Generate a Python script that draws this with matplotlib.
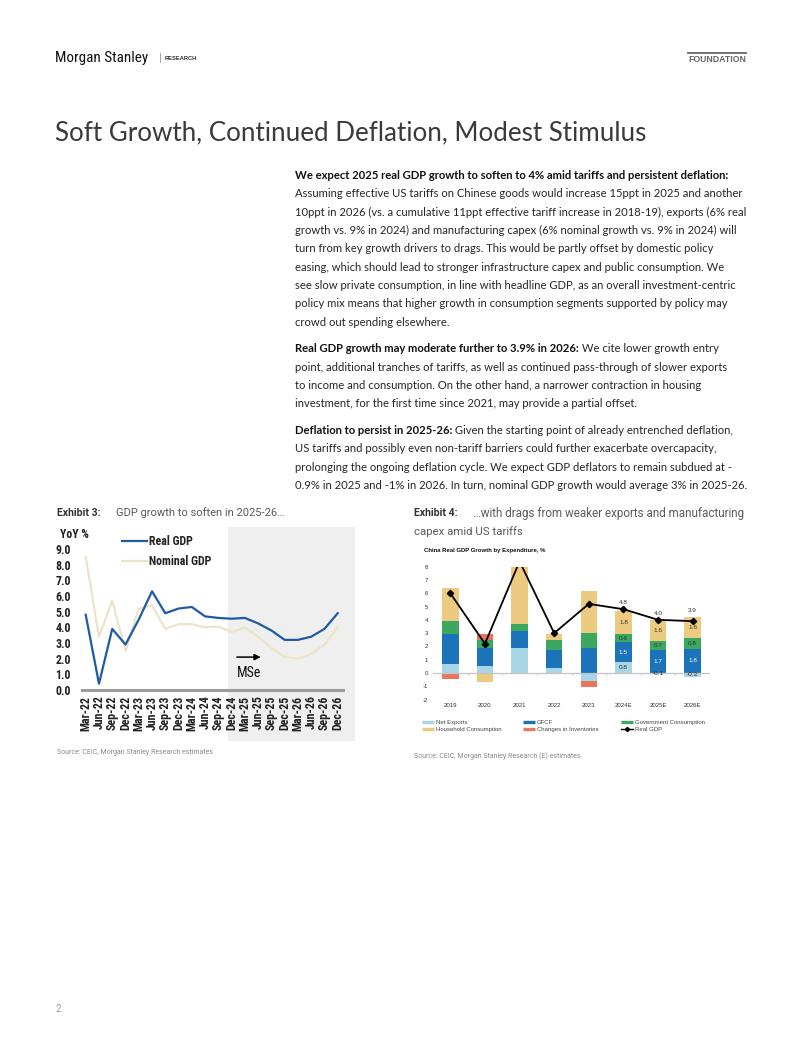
import matplotlib
matplotlib.use('Agg')
import matplotlib.pyplot as plt
from matplotlib import font_manager as fm
from matplotlib.patches import Rectangle
from matplotlib.lines import Line2D
from matplotlib.transforms import blended_transform_factory
import numpy as np

plt.rcParams['axes.unicode_minus'] = False

# ---------------- data ----------------
quarters = ['Mar-22', 'Jun-22', 'Sep-22', 'Dec-22', 'Mar-23', 'Jun-23', 'Sep-23', 'Dec-23',
            'Mar-24', 'Jun-24', 'Sep-24', 'Dec-24', 'Mar-25', 'Jun-25', 'Sep-25', 'Dec-25',
            'Mar-26', 'Jun-26', 'Sep-26', 'Dec-26']
real_gdp_q = [4.8, 0.4, 3.9, 2.9, 4.5, 6.3, 4.9, 5.2, 5.3, 4.7, 4.6, 4.55,
              4.6, 4.25, 3.8, 3.2, 3.2, 3.4, 3.9, 4.9]
nominal_gdp_q = [8.5, 3.4, 5.7, 2.5, 5.2, 5.4, 3.9, 4.2, 4.2, 4.0, 4.05, 3.7,
                 4.0, 3.4, 2.7, 2.1, 2.0, 2.3, 2.9, 4.0]
forecast_start = 'Dec-24'
left_yticks = [0, 1, 2, 3, 4, 5, 6, 7, 8, 9]

years = ['2019', '2020', '2021', '2022', '2023', '2024E', '2025E', '2026E']
net_exports = [0.7, 0.55, 1.85, 0.4, -0.6, 0.8, -0.1, -0.3]
gfcf = [2.2, 1.35, 1.3, 1.3, 1.9, 1.5, 1.7, 1.8]
gov_cons = [1.0, 0.55, 0.55, 0.75, 1.1, 0.6, 0.7, 0.8]
household = [2.5, -0.65, 4.6, 0.5, 3.2, 1.8, 1.6, 1.6]
inventories = [-0.45, 0.45, 0.0, 0.0, -0.45, 0.0, 0.0, 0.0]
real_gdp_y = [6.0, 2.2, 8.4, 3.0, 5.2, 4.8, 4.0, 3.9]
labelled_years = ['2024E', '2025E', '2026E']
right_yticks = [-2, -1, 0, 1, 2, 3, 4, 5, 6, 7, 8]

# ---------------- setup ----------------
W, H = 802, 1037
fig = plt.figure(figsize=(W / 100, H / 100), dpi=100)
fig.patch.set_facecolor('white')
R = fig.canvas.get_renderer()


def fx(x):
    return x / W


def fy(y):
    return 1 - y / H


names = {f.name for f in fm.fontManager.ttflist}
BODY = 'Lato' if 'Lato' in names else 'Open Sans'
NARROW = next((n for n in ['Liberation Sans Narrow', 'Roboto Condensed', 'DejaVu Sans Condensed']
               if n in names), 'Liberation Sans')
ARIAL = 'Liberation Sans'
ROBOTO = 'Roboto' if 'Roboto' in names else 'DejaVu Sans'


def text(x, y, s, width=None, **kw):
    kw.setdefault('va', 'center')
    kw.setdefault('ha', 'left')
    t = fig.text(fx(x), fy(y), s, **kw)
    if width is not None:
        w = t.get_window_extent(R).width
        t.set_fontsize(t.get_fontsize() * width / w)
    return t


# ---------------- header ----------------
text(55, 58, 'Morgan Stanley', width=93, fontsize=10, family=NARROW, color='#111')
text(159, 58, '|', fontsize=8, family=ARIAL, color='#999')
text(165, 58.5, 'RESEARCH', width=32, fontsize=4.5, family=ARIAL, fontweight='bold', color='#333')
text(688, 59, 'FOUNDATION', width=58, fontsize=6, family=ARIAL, fontweight='bold', color='#666')
fig.add_artist(Line2D([fx(688), fx(746)], [fy(52.5), fy(52.5)], color='#666', lw=1.3))

text(55, 133, 'Soft Growth, Continued Deflation, Modest Stimulus', width=593,
     fontsize=20, family=BODY, fontweight='normal', color='#3a3a3a')

# ---------------- body text ----------------
tmp = fig.text(0, 0, 'Assuming effective US tariffs on Chinese goods would increase 15ppt in 2025 and another',
               fontsize=10, family=BODY)
body_fs = 10 * 446.5 / tmp.get_window_extent(R).width
tmp.remove()


def body_line(x, y, segs):
    for s, wgt in segs:
        t = fig.text(fx(x), fy(y + 4), s, fontsize=body_fs, family=BODY, fontweight=wgt,
                     color='#111' if wgt == 'bold' else '#262626', va='baseline', ha='left')
        x += t.get_window_extent(R).width


para1 = [
    [('We expect 2025 real GDP growth to soften to 4% amid tariffs and persistent deflation:', 'bold')],
    [('Assuming effective US tariffs on Chinese goods would increase 15ppt in 2025 and another', 'normal')],
    [('10ppt in 2026 (vs. a cumulative 11ppt effective tariff increase in 2018-19), exports (6% real', 'normal')],
    [('growth vs. 9% in 2024) and manufacturing capex (6% nominal growth vs. 9% in 2024) will', 'normal')],
    [('turn from key growth drivers to drags. This would be partly offset by domestic policy', 'normal')],
    [('easing, which should lead to stronger infrastructure capex and public consumption. We', 'normal')],
    [('see slow private consumption, in line with headline GDP, as an overall investment-centric', 'normal')],
    [('policy mix means that higher growth in consumption segments supported by policy may', 'normal')],
    [('crowd out spending elsewhere.', 'normal')],
]
para2 = [
    [('Real GDP growth may moderate further to 3.9% in 2026:', 'bold'), (' We cite lower growth entry', 'normal')],
    [('point, additional tranches of tariffs, as well as continued pass-through of slower exports', 'normal')],
    [('to income and consumption. On the other hand, a narrower contraction in housing', 'normal')],
    [('investment, for the first time since 2021, may provide a partial offset.', 'normal')],
]
para3 = [
    [('Deflation to persist in 2025-26:', 'bold'), (' Given the starting point of already entrenched deflation,', 'normal')],
    [('US tariffs and possibly even non-tariff barriers could further exacerbate overcapacity,', 'normal')],
    [('prolonging the ongoing deflation cycle. We expect GDP deflators to remain subdued at -', 'normal')],
    [('0.9% in 2025 and -1% in 2026. In turn, nominal GDP growth would average 3% in 2025-26.', 'normal')],
]
LH = 18.35
for para, y0 in [(para1, 175), (para2, 348.3), (para3, 430)]:
    for i, segs in enumerate(para):
        body_line(295, y0 + i * LH, segs)

# ---------------- exhibit titles ----------------
text(57, 513, 'Exhibit 3:', width=44, fontsize=8, family=ROBOTO, fontweight='bold', color='#333')
text(116.5, 513, 'GDP growth to soften in 2025-26\u2026', width=168, fontsize=8, family=ROBOTO,
     color='#5a5a5a')
text(414.5, 513, 'Exhibit 4:', width=44, fontsize=8, family=ROBOTO, fontweight='bold', color='#333')
text(473, 513, '\u2026with drags from weaker exports and manufacturing', width=272, fontsize=8,
     family=ROBOTO, color='#5a5a5a')
text(414.5, 531.5, 'capex amid US tariffs', width=109, fontsize=8, family=ROBOTO,
     color='#5a5a5a')

text(57, 752, 'Source: CEIC, Morgan Stanley Research estimates', width=156, fontsize=5,
     family=ROBOTO, color='#8a8a8a')
text(414, 756, 'Source: CEIC, Morgan Stanley Research (E) estimates', width=168, fontsize=5,
     family=ROBOTO, color='#8a8a8a')
text(56, 1008.5, '2', fontsize=7, family=ROBOTO, color='#999')

# ---------------- left chart ----------------
ax1 = fig.add_axes([fx(82), fy(690), fx(343) - fx(82), fy(549) - fy(690)])
ax1.set_facecolor('none')
xs = np.arange(len(quarters))
ax1.set_xlim(-0.28, len(quarters) - 0.6)
ax1.set_ylim(0, 9)
fs_idx = quarters.index(forecast_start)
shade = Rectangle((fs_idx - 0.3, fy(741)), len(quarters) + 0.3 - (fs_idx - 0.3), fy(527) - fy(741),
                  transform=blended_transform_factory(ax1.transData, fig.transFigure),
                  facecolor='#efefef', edgecolor='none', zorder=0, clip_on=False)
ax1.add_patch(shade)
ax1.plot(xs, nominal_gdp_q, color='#ede4c6', lw=1.6, label='Nominal GDP', zorder=3)
ax1.plot(xs, real_gdp_q, color='#1f5ba3', lw=1.6, label='Real GDP', zorder=4)
for s in ['top', 'right', 'left']:
    ax1.spines[s].set_visible(False)
ax1.spines['bottom'].set_color('#9c9c9c')
ax1.spines['bottom'].set_linewidth(2.2)
ax1.set_yticks(left_yticks)
ax1.set_yticklabels(['%.1f' % v for v in left_yticks])
ax1.set_xticks(xs)
ax1.set_xticklabels(quarters, rotation=90)
ax1.tick_params(axis='y', length=0, pad=8, labelsize=8.6, labelcolor='#222')
ax1.tick_params(axis='x', length=0, pad=4, labelsize=8.6, labelcolor='#222')
for lab in ax1.get_xticklabels() + ax1.get_yticklabels():
    lab.set_family(NARROW)
    lab.set_fontweight('bold')
h = ax1.get_legend_handles_labels()[0]
leg1 = ax1.legend([h[1], h[0]], ['Real GDP', 'Nominal GDP'], loc='upper left',
                  bbox_to_anchor=(fx(122), fy(535)), bbox_transform=fig.transFigure,
                  frameon=False, handlelength=2.1, handletextpad=0.15,
                  labelspacing=0.6, borderpad=0, borderaxespad=0,
                  prop={'family': NARROW, 'weight': 'bold', 'size': 8.6})
for t in leg1.get_texts():
    t.set_color('#222')
fig.text(fx(60), fy(535), 'YoY %', family=NARROW, fontweight='bold', fontsize=8.6,
         color='#222', va='center', ha='left')
ax1.annotate('', xy=(fs_idx + 2.2, 2.1), xytext=(fs_idx + 0.4, 2.1),
             arrowprops=dict(arrowstyle='-|>', color='black', lw=1.1, mutation_scale=9,
                             shrinkA=0, shrinkB=0))
ax1.text(fs_idx + 1.3, 1.1, 'MSe', family=NARROW, fontsize=10, color='#111',
         ha='center', va='center')

# ---------------- right chart ----------------
ax2 = fig.add_axes([fx(433), fy(699.5), fx(710) - fx(433), fy(566.7) - fy(699.5)])
ax2.set_facecolor('none')
xi = np.arange(len(years))
ax2.set_xlim(-0.5, len(years) - 0.5)
ax2.set_ylim(-2, 8)
series = [('Net Exports', net_exports, '#a9d6e6'),
          ('GFCF', gfcf, '#1b74ba'),
          ('Government Consumption', gov_cons, '#3ca75e'),
          ('Household Consumption', household, '#ecca80'),
          ('Changes in Inventories', inventories, '#e8765c')]
pos_base = np.zeros(len(years))
neg_base = np.zeros(len(years))
bw = 0.48
for name, vals, col in series:
    vals = np.array(vals, dtype=float)
    base = np.where(vals >= 0, pos_base, neg_base)
    ax2.bar(xi, vals, bw, bottom=base, color=col, edgecolor='none', zorder=2)
    for i, y in enumerate(years):
        if y in labelled_years and vals[i] != 0:
            tc = 'white' if name == 'GFCF' else '#333'
            ax2.text(xi[i], base[i] + vals[i] / 2, '%.1f' % vals[i], ha='center', va='center',
                     fontsize=4.6, family=ARIAL, color=tc, zorder=5)
    pos_base = pos_base + np.where(vals >= 0, vals, 0)
    neg_base = neg_base + np.where(vals < 0, vals, 0)
ax2.axhline(0, color='#c4c4c4', lw=0.9, zorder=3)
ax2.vlines(xi[:-1] + 0.5, -0.15, 0, color='#c4c4c4', lw=0.8, zorder=3)
ax2.plot(xi, real_gdp_y, color='black', lw=1.3, marker='D', markersize=3.2, zorder=4)
for i, y in enumerate(years):
    if y in labelled_years:
        top = max(pos_base[i], real_gdp_y[i])
        ax2.annotate('%.1f' % real_gdp_y[i], (xi[i], top), xytext=(0, 3), textcoords='offset points',
                     ha='center', va='bottom', fontsize=4.6, family=ARIAL, color='#333')
for s in ax2.spines.values():
    s.set_visible(False)
ax2.set_yticks(right_yticks)
ax2.set_xticks(xi)
ax2.set_xticklabels(years)
ax2.tick_params(axis='y', length=0, pad=3.5, labelsize=4.4, labelcolor='#333')
ax2.tick_params(axis='x', length=0, pad=2.5, labelsize=4.4, labelcolor='#333')
for lab in ax2.get_xticklabels() + ax2.get_yticklabels():
    lab.set_family(ARIAL)
fig.text(fx(424.5), fy(550.5), 'China Real GDP Growth by Expenditure, %', family=ARIAL,
         fontweight='bold', fontsize=4.3, color='#111', va='center', ha='left')

handles = [Line2D([], [], color=c, lw=2.4, solid_capstyle='butt') for _, _, c in series]
handles.append(Line2D([], [], color='black', lw=1.0, marker='D', markersize=2.2))
labels = [n for n, _, _ in series] + ['Real GDP']
order = [0, 3, 1, 4, 2, 5]
leg2 = ax2.legend([handles[k] for k in order], [labels[k] for k in order], ncol=3,
                  loc='upper left', bbox_to_anchor=(fx(422), fy(719.5)),
                  bbox_transform=fig.transFigure, frameon=False,
                  prop={'family': ARIAL, 'size': 4.3}, handlelength=2.0, handletextpad=0.3,
                  labelspacing=0.3, columnspacing=3.7, borderpad=0, borderaxespad=0)
for t in leg2.get_texts():
    t.set_color('#444')

fig.savefig('out.png', dpi=100, facecolor='white')
